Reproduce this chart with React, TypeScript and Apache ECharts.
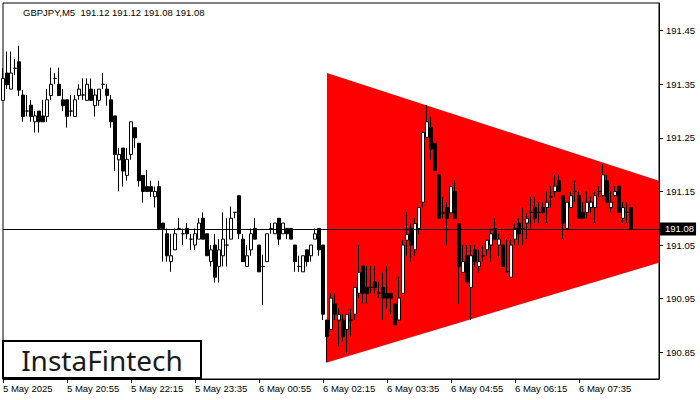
import React, { useEffect, useRef } from "react";
import * as echarts from "echarts";

// ---- data ----
const symbolName = "GBPJPY,M5";

// [open, high, low, close] for each M5 bar, starting 5 May 19:35
const candles: number[][] = [
  [191.320, 191.380, 191.320, 191.361],
  [191.371, 191.411, 191.341, 191.349],
  [191.341, 191.411, 191.341, 191.371],
  [191.380, 191.397, 191.367, 191.380],
  [191.392, 191.422, 191.328, 191.339],
  [191.330, 191.339, 191.280, 191.290],
  [191.300, 191.330, 191.290, 191.300],
  [191.311, 191.321, 191.280, 191.290],
  [191.280, 191.300, 191.260, 191.291],
  [191.300, 191.300, 191.260, 191.280],
  [191.291, 191.321, 191.280, 191.280],
  [191.290, 191.341, 191.280, 191.321],
  [191.329, 191.381, 191.321, 191.350],
  [191.361, 191.371, 191.350, 191.361],
  [191.350, 191.381, 191.329, 191.329],
  [191.321, 191.341, 191.300, 191.310],
  [191.321, 191.321, 191.269, 191.290],
  [191.300, 191.330, 191.290, 191.300],
  [191.290, 191.330, 191.290, 191.321],
  [191.329, 191.350, 191.321, 191.341],
  [191.330, 191.361, 191.321, 191.330],
  [191.320, 191.361, 191.320, 191.350],
  [191.341, 191.361, 191.320, 191.320],
  [191.310, 191.341, 191.290, 191.330],
  [191.320, 191.341, 191.310, 191.341],
  [191.350, 191.371, 191.341, 191.350],
  [191.341, 191.350, 191.310, 191.329],
  [191.321, 191.330, 191.269, 191.280],
  [191.291, 191.291, 191.188, 191.219],
  [191.209, 191.231, 191.150, 191.219],
  [191.231, 191.231, 191.159, 191.188],
  [191.180, 191.231, 191.170, 191.210],
  [191.219, 191.280, 191.209, 191.280],
  [191.269, 191.269, 191.231, 191.250],
  [191.240, 191.240, 191.159, 191.170],
  [191.180, 191.180, 191.129, 191.150],
  [191.159, 191.190, 191.150, 191.150],
  [191.159, 191.170, 191.140, 191.150],
  [191.140, 191.159, 191.120, 191.150],
  [191.159, 191.170, 191.081, 191.081],
  [191.091, 191.091, 191.019, 191.081],
  [191.071, 191.081, 191.019, 191.030],
  [191.019, 191.071, 191.000, 191.030],
  [191.041, 191.081, 191.041, 191.071],
  [191.081, 191.100, 191.081, 191.081],
  [191.071, 191.081, 191.050, 191.071],
  [191.081, 191.091, 191.061, 191.071],
  [191.061, 191.071, 191.041, 191.061],
  [191.050, 191.081, 191.041, 191.071],
  [191.061, 191.100, 191.061, 191.091],
  [191.100, 191.111, 191.061, 191.061],
  [191.071, 191.071, 191.030, 191.030],
  [191.019, 191.050, 191.010, 191.041],
  [191.050, 191.071, 190.980, 190.990],
  [191.010, 191.061, 190.980, 191.041],
  [191.030, 191.111, 191.010, 191.061],
  [191.050, 191.100, 191.010, 191.050],
  [191.061, 191.122, 191.061, 191.100],
  [191.111, 191.111, 191.100, 191.111],
  [191.142, 191.142, 191.061, 191.071],
  [191.061, 191.071, 191.019, 191.019],
  [191.010, 191.050, 191.010, 191.030],
  [191.041, 191.081, 191.030, 191.071],
  [191.081, 191.100, 191.061, 191.061],
  [191.050, 191.050, 191.000, 191.000],
  [191.010, 191.032, 190.938, 191.010],
  [191.019, 191.071, 191.019, 191.071],
  [191.081, 191.091, 191.071, 191.081],
  [191.071, 191.091, 191.071, 191.091],
  [191.100, 191.100, 191.050, 191.061],
  [191.071, 191.091, 191.071, 191.091],
  [191.081, 191.081, 191.061, 191.071],
  [191.081, 191.081, 191.061, 191.061],
  [191.050, 191.050, 191.000, 191.019],
  [191.010, 191.030, 191.000, 191.010],
  [191.000, 191.030, 191.000, 191.030],
  [191.041, 191.041, 191.010, 191.019],
  [191.030, 191.050, 191.019, 191.050],
  [191.061, 191.081, 191.061, 191.071],
  [191.081, 191.081, 191.030, 191.041],
  [191.050, 191.050, 190.910, 190.921],
  [190.910, 190.910, 190.831, 190.879],
  [190.892, 190.960, 190.892, 190.951],
  [190.940, 190.960, 190.910, 190.921],
  [190.910, 190.932, 190.861, 190.921],
  [190.910, 190.921, 190.870, 190.879],
  [190.892, 190.921, 190.848, 190.921],
  [190.910, 190.931, 190.879, 190.910],
  [190.921, 190.971, 190.910, 190.971],
  [190.960, 191.050, 190.951, 190.999],
  [191.011, 191.011, 190.941, 190.960],
  [190.971, 191.011, 190.941, 190.960],
  [190.971, 191.011, 190.960, 190.971],
  [190.981, 191.011, 190.960, 190.971],
  [190.960, 190.981, 190.951, 190.960],
  [190.971, 190.999, 190.910, 190.951],
  [190.960, 191.011, 190.931, 190.951],
  [190.960, 190.960, 190.921, 190.951],
  [190.940, 190.940, 190.901, 190.901],
  [190.910, 190.991, 190.910, 190.951],
  [190.960, 191.059, 190.960, 191.050],
  [191.059, 191.112, 191.030, 191.070],
  [191.081, 191.090, 191.019, 191.050],
  [191.041, 191.101, 191.030, 191.090],
  [191.081, 191.120, 191.070, 191.120],
  [191.130, 191.260, 191.120, 191.260],
  [191.251, 191.311, 191.251, 191.280],
  [191.270, 191.290, 191.209, 191.229],
  [191.240, 191.240, 191.189, 191.189],
  [191.181, 191.181, 191.100, 191.100],
  [191.110, 191.140, 191.100, 191.110],
  [191.120, 191.130, 191.050, 191.100],
  [191.110, 191.159, 191.110, 191.159],
  [191.150, 191.171, 191.100, 191.100],
  [191.090, 191.090, 190.940, 191.010],
  [190.999, 191.050, 190.999, 191.019],
  [191.030, 191.050, 190.981, 190.981],
  [190.971, 191.050, 190.910, 191.030],
  [191.041, 191.050, 191.010, 191.019],
  [191.010, 191.041, 190.999, 191.019],
  [191.030, 191.050, 191.019, 191.030],
  [191.041, 191.059, 191.030, 191.059],
  [191.050, 191.081, 191.019, 191.071],
  [191.081, 191.100, 191.061, 191.061],
  [191.050, 191.071, 191.028, 191.061],
  [191.050, 191.050, 191.010, 191.010],
  [191.000, 191.061, 191.000, 191.000],
  [190.990, 191.061, 190.990, 191.050],
  [191.061, 191.091, 191.050, 191.081],
  [191.091, 191.100, 191.050, 191.071],
  [191.081, 191.120, 191.050, 191.081],
  [191.091, 191.109, 191.061, 191.100],
  [191.111, 191.140, 191.081, 191.111],
  [191.120, 191.140, 191.091, 191.100],
  [191.111, 191.130, 191.091, 191.111],
  [191.120, 191.130, 191.109, 191.111],
  [191.120, 191.150, 191.091, 191.130],
  [191.140, 191.160, 191.120, 191.140],
  [191.150, 191.181, 191.140, 191.160],
  [191.170, 191.181, 191.150, 191.150],
  [191.142, 191.142, 191.061, 191.091],
  [191.081, 191.130, 191.081, 191.130],
  [191.120, 191.150, 191.120, 191.142],
  [191.150, 191.170, 191.130, 191.150],
  [191.142, 191.150, 191.100, 191.100],
  [191.111, 191.130, 191.100, 191.100],
  [191.111, 191.150, 191.100, 191.130],
  [191.120, 191.140, 191.111, 191.130],
  [191.120, 191.150, 191.091, 191.142],
  [191.150, 191.160, 191.140, 191.150],
  [191.142, 191.201, 191.140, 191.181],
  [191.170, 191.181, 191.130, 191.130],
  [191.120, 191.150, 191.111, 191.130],
  [191.142, 191.160, 191.140, 191.150],
  [191.160, 191.160, 191.111, 191.111],
  [191.100, 191.130, 191.091, 191.120],
  [191.111, 191.130, 191.091, 191.111],
  [191.120, 191.120, 191.080, 191.080],
];

// time-axis labels, one every 16 bars (80 minutes)
const tickLabels = [
  "5 May 2025",
  "5 May 20:55",
  "5 May 22:15",
  "5 May 23:35",
  "6 May 00:55",
  "6 May 02:15",
  "6 May 03:35",
  "6 May 04:55",
  "6 May 06:15",
  "6 May 07:35",
];
const barsPerTick = 16;
const emptyBarsRight = 7;

// price-axis labels
const priceTicks = [190.85, 190.95, 191.05, 191.15, 191.25, 191.35, 191.45];
const priceMin = 190.8;
const priceMax = 191.5017;

// symmetrical-triangle pattern lines: [bar index, price]
const triangleUpper = [
  [81, 191.371],
  [164, 191.17],
];
const triangleLower = [
  [81, 190.831],
  [164, 191.017],
];

const brandText = "InstaFintech";

const FONT = "'Liberation Sans', Arial, sans-serif";

export default function App() {
  const ref = useRef<HTMLDivElement>(null);

  useEffect(() => {
    if (!ref.current) return;
    const chart = echarts.init(ref.current, undefined, { renderer: "svg" });
    const total = candles.length + emptyBarsRight;
    const categories = Array.from({ length: total }, (_, i) => String(i));
    const last = candles[candles.length - 1];
    const lastClose = last[3];
    const header =
      symbolName + "  " + last.map((v) => v.toFixed(2)).join(" ");

    const isTick = (i: number) =>
      i % barsPerTick === 0 && i / barsPerTick < tickLabels.length;

    chart.setOption({
      animation: false,
      backgroundColor: "#ffffff",
      title: {
        text: header,
        left: 18,
        top: 2,
        textStyle: {
          fontSize: 9.5,
          fontWeight: "normal",
          color: "#000",
          fontFamily: FONT,
        },
      },
      grid: {
        left: 3,
        top: 3,
        width: 656,
        height: 376,
        show: true,
        borderColor: "#000",
        borderWidth: 1,
        backgroundColor: "transparent",
      },
      xAxis: {
        type: "category",
        data: categories,
        boundaryGap: false,
        axisLine: { show: true, lineStyle: { color: "#000", width: 1 } },
        axisTick: {
          show: true,
          interval: (i: number) => isTick(i),
          length: 4,
          lineStyle: { color: "#000" },
        },
        axisLabel: {
          interval: (i: number) => isTick(i),
          formatter: (_v: string, i: number) =>
            isTick(i) ? tickLabels[i / barsPerTick] : "",
          align: "left",
          margin: 4,
          fontSize: 9.5,
          color: "#000",
          fontFamily: FONT,
        },
        splitLine: { show: false },
      },
      yAxis: {
        type: "value",
        position: "right",
        min: priceMin,
        max: priceMax,
        scale: true,
        axisLine: { show: true, lineStyle: { color: "#000", width: 1 } },
        axisTick: {
          show: true,
          length: 4,
          customValues: priceTicks,
          lineStyle: { color: "#000" },
        },
        axisLabel: {
          customValues: priceTicks,
          formatter: (v: number) => v.toFixed(2),
          margin: 7,
          fontSize: 9.5,
          color: "#000",
          fontFamily: FONT,
        },
        splitLine: { show: false },
      },
      series: [
        {
          type: "custom",
          z: 1,
          clip: true,
          silent: true,
          data: [0],
          renderItem: (_params: any, api: any) => {
            const pts = [
              triangleUpper[0],
              triangleUpper[1],
              triangleLower[1],
              triangleLower[0],
            ].map((p) => api.coord(p));
            return {
              type: "polygon",
              shape: { points: pts },
              style: { fill: "#ff0000", stroke: null },
            };
          },
        },
        {
          type: "candlestick",
          z: 3,
          barWidth: 3,
          silent: true,
          data: candles.map(([o, h, l, c]) => [o, c, l, h]),
          itemStyle: {
            color: "#ffffff",
            color0: "#000000",
            borderColor: "#000000",
            borderColor0: "#000000",
            borderColorDoji: "#000000",
            borderWidth: 1,
          },
          markLine: {
            silent: true,
            symbol: ["none", "none"],
            lineStyle: { color: "#000", width: 1, type: "solid" },
            label: {
              show: true,
              position: "end",
              distance: 1,
              formatter: lastClose.toFixed(2),
              color: "#fff",
              backgroundColor: "#000",
              padding: [2, 2, 1, 5],
              fontSize: 9.5,
              fontFamily: FONT,
            },
            data: [{ yAxis: lastClose }],
          },
        },
      ],
      graphic: [
        {
          type: "group",
          z: 100,
          children: [
            {
              type: "rect",
              shape: { x: 3, y: 341, width: 198, height: 37 },
              style: { fill: "#ffffff", stroke: "#000000", lineWidth: 2 },
            },
            {
              type: "text",
              style: {
                text: brandText,
                x: 102,
                y: 359.5,
                align: "center",
                verticalAlign: "middle",
                fontSize: 28,
                fontFamily: "'Noto Sans', 'Liberation Sans', sans-serif",
                fill: "#1a1a1a",
              },
            },
          ],
        },
      ],
    });

    return () => chart.dispose();
  }, []);

  return (
    <div
      ref={ref}
      style={{ position: "absolute", left: 0, top: 0, width: 700, height: 400 }}
    />
  );
}
